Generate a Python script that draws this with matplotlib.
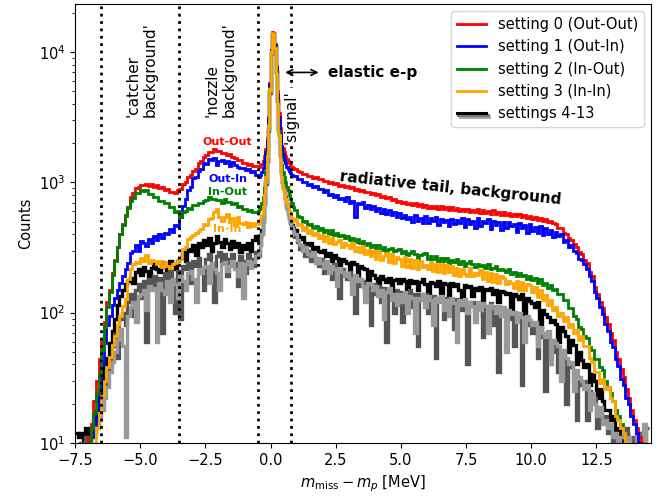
import numpy as np
import matplotlib
matplotlib.use("Agg")
import matplotlib.pyplot as plt
from matplotlib.lines import Line2D
from matplotlib.legend_handler import HandlerBase

# binning: 0.1 MeV on the sides, 0.05 MeV around the elastic peak
edges = np.concatenate([np.linspace(-7.5, -0.5, 71)[:-1],
                        np.linspace(-0.5, 0.9, 29)[:-1],
                        np.linspace(0.9, 14.5, 137)])

# counts per bin (left part / peak part / tail part)
red_left = [1, 1, 1, 1, 1, 11, 14, 21, 30, 44,
            62, 85, 120, 150, 200, 255, 320, 400, 480, 560,
            650, 770, 830, 905, 920, 955, 960, 970, 935, 965,
            930, 955, 905, 915, 880, 885, 840, 845, 835, 870,
            895, 975, 1010, 1110, 1140, 1220, 1270, 1400, 1450, 1580,
            1620, 1710, 1700, 1800, 1740, 1740, 1670, 1680, 1620, 1650,
            1560, 1550, 1490, 1500, 1410, 1420, 1360, 1380, 1330, 1340]
red_peak = [1340, 1320, 1350, 1380, 1450, 1600, 1800, 2200, 3200, 5800, 10500, 14200, 14000, 11500,
            7800, 5000, 3400, 2600, 2100, 1850, 1700, 1600, 1520, 1450, 1400, 1350, 1320, 1290]
red_tail = [1260, 1215, 1210, 1165, 1160, 1130, 1125, 1090, 1095, 1055,
            1070, 1025, 1035, 995, 1010, 970, 990, 945, 960, 920,
            935, 905, 915, 880, 895, 855, 870, 840, 852, 820,
            830, 800, 812, 780, 790, 755, 768, 735, 742, 710,
            722, 695, 712, 680, 700, 672, 690, 660, 678, 650,
            672, 640, 665, 635, 660, 628, 655, 620, 648, 615,
            645, 612, 632, 608, 628, 600, 622, 596, 615, 592,
            620, 585, 612, 582, 604, 576, 610, 570, 596, 566,
            590, 560, 582, 556, 576, 548, 568, 540, 560, 534,
            552, 528, 546, 518, 536, 508, 520, 496, 505, 485,
            482, 450, 445, 410, 400, 372, 362, 335, 322, 292,
            282, 252, 240, 205, 190, 158, 140, 120, 108, 92,
            82, 70, 62, 50, 44, 37, 32, 26, 22, 18,
            15, 13, 11, 10, 1, 1]

blue_left = [1, 1, 1, 1, 1, 1, 11, 14, 18, 26,
             40, 58, 80, 95, 115, 130, 150, 170, 190, 215,
             240, 285, 295, 330, 300, 355, 345, 325, 370, 340,
             390, 360, 405, 375, 410, 400, 440, 420, 470, 465,
             540, 660, 740, 880, 930, 1080, 1100, 1230, 1270, 1410,
             1380, 1510, 1480, 1530, 1360, 1470, 1480, 1420, 1460, 1340,
             1430, 1350, 1320, 1300, 1300, 1250, 1270, 1200, 1220, 1150]
blue_peak = [1120, 1100, 1150, 1200, 1300, 1450, 1700, 2100, 3100, 5700, 10400, 14100, 13900, 11300,
             7600, 4800, 3200, 2400, 1900, 1650, 1500, 1400, 1320, 1280, 1220, 1180, 1150, 1120]
blue_tail = [1120, 1060, 1065, 1010, 1000, 955, 975, 925, 940, 890,
             890, 850, 870, 800, 820, 770, 800, 745, 760, 720,
             770, 700, 720, 540, 700, 680, 705, 640, 670, 620,
             655, 600, 640, 585, 620, 570, 610, 560, 595, 545,
             580, 530, 565, 520, 545, 500, 560, 505, 530, 490,
             555, 485, 530, 510, 540, 470, 525, 495, 515, 460,
             525, 480, 515, 490, 530, 455, 520, 480, 505, 450,
             530, 465, 510, 485, 520, 440, 505, 470, 500, 430,
             495, 450, 500, 460, 480, 420, 490, 445, 470, 410,
             480, 425, 455, 410, 460, 395, 445, 400, 430, 380,
             420, 390, 400, 350, 360, 320, 330, 300, 285, 260,
             255, 235, 215, 190, 175, 145, 130, 110, 98, 82,
             72, 60, 54, 44, 39, 31, 28, 22, 20, 16,
             14, 12, 10, 1, 1, 1]

green_left = [1, 1, 1, 1, 1, 10, 13, 17, 24, 34,
              52, 78, 110, 145, 195, 250, 320, 400, 470, 550,
              640, 720, 760, 830, 830, 870, 860, 875, 810, 810,
              770, 770, 725, 725, 690, 700, 650, 650, 595, 600,
              540, 590, 600, 640, 630, 675, 670, 700, 690, 720,
              730, 780, 750, 745, 735, 730, 690, 740, 710, 705,
              680, 690, 645, 660, 620, 630, 600, 610, 590, 595]
green_peak = [600, 620, 650, 700, 780, 900, 1200, 1700, 2800, 5300, 10000, 13800, 13600, 10900,
              7000, 4200, 2500, 1700, 1350, 1200, 1100, 1000, 930, 870, 800, 750, 700, 650]
green_tail = [610, 555, 540, 500, 505, 470, 480, 450, 465, 435,
              450, 420, 435, 405, 428, 398, 410, 385, 398, 375,
              390, 362, 375, 350, 366, 340, 355, 328, 345, 320,
              332, 315, 330, 305, 318, 296, 310, 315, 295, 305,
              308, 285, 296, 275, 288, 295, 280, 265, 278, 282,
              288, 260, 270, 258, 272, 248, 262, 250, 262, 240,
              252, 245, 258, 236, 248, 230, 242, 250, 238, 226,
              238, 228, 232, 222, 238, 215, 222, 230, 214, 218,
              212, 206, 218, 198, 206, 192, 200, 190, 196, 182,
              192, 178, 186, 170, 180, 164, 170, 156, 162, 148,
              152, 138, 140, 124, 124, 108, 108, 94, 90, 78,
              75, 66, 64, 54, 52, 44, 44, 38, 36, 30,
              27, 24, 21, 18, 16, 14, 12, 10, 1, 1,
              1, 1, 1, 1, 1, 1]

orange_left = [1, 1, 1, 1, 1, 1, 1, 10, 13, 17,
               23, 30, 38, 46, 56, 66, 80, 95, 112, 128,
               180, 215, 235, 245, 240, 265, 250, 275, 240, 255,
               250, 235, 250, 225, 245, 230, 220, 235, 240, 250,
               265, 310, 320, 370, 380, 395, 410, 425, 440, 480,
               470, 520, 530, 590, 630, 540, 510, 545, 575, 500,
               530, 470, 545, 490, 480, 500, 455, 490, 465, 485]
orange_peak = [480, 500, 520, 560, 650, 800, 1100, 1600, 2700, 5200, 10000, 14000, 13800, 10800,
               6800, 4000, 2300, 1500, 1100, 900, 800, 740, 700, 650, 600, 560, 530, 510]
orange_tail = [520, 470, 480, 430, 455, 410, 430, 395, 410, 375,
               395, 355, 390, 345, 375, 335, 350, 360, 320, 345,
               330, 315, 340, 295, 320, 290, 325, 280, 305, 270,
               300, 258, 295, 255, 270, 285, 245, 280, 240, 268,
               258, 230, 268, 225, 258, 222, 252, 215, 248, 225,
               232, 215, 245, 210, 238, 205, 235, 200, 232, 205,
               228, 195, 222, 190, 218, 198, 190, 222, 192, 200,
               196, 212, 180, 205, 175, 200, 172, 198, 168, 190,
               186, 165, 175, 170, 155, 176, 150, 172, 148, 165,
               162, 145, 158, 132, 150, 126, 136, 114, 124, 104,
               110, 95, 100, 86, 92, 78, 82, 70, 74, 62,
               66, 55, 55, 45, 42, 35, 35, 29, 31, 26,
               27, 22, 21, 16, 15, 13, 12, 10, 1, 1,
               1, 1, 1, 1, 1, 1]

# settings 4-13, shown as three grey shades
black_left = [12, 11, 12, 10, 13, 11, 13, 15, 18, 22,
              30, 38, 45, 58, 72, 90, 115, 135, 150, 165,
              175, 185, 170, 205, 215, 195, 225, 210, 180, 220,
              235, 215, 205, 245, 225, 180, 250, 235, 215, 250,
              265, 290, 250, 310, 300, 330, 275, 340, 320, 360,
              330, 375, 300, 345, 385, 350, 320, 365, 340, 310,
              355, 320, 345, 290, 330, 310, 345, 300, 360, 390]
black_peak = [360, 340, 380, 430, 520, 700, 1000, 1500, 2600, 5000, 9800, 13700, 13900, 11000,
              7000, 4200, 2500, 1600, 1200, 1000, 900, 780, 680, 600, 540, 500, 470, 450]
black_tail = [430, 395, 370, 380, 340, 330, 345, 300, 320, 295,
              290, 305, 270, 285, 250, 275, 265, 230, 260, 250,
              240, 210, 245, 235, 190, 230, 222, 215, 170, 210,
              195, 185, 150, 190, 180, 172, 185, 140, 178, 182,
              170, 180, 175, 130, 178, 168, 176, 150, 172, 180,
              165, 120, 172, 168, 160, 175, 140, 170, 165, 110,
              168, 160, 165, 150, 125, 162, 158, 160, 135, 155,
              150, 158, 95, 152, 148, 155, 140, 150, 120, 146,
              145, 138, 142, 100, 140, 135, 128, 138, 90, 130,
              122, 118, 110, 120, 78, 105, 98, 92, 85, 88,
              82, 60, 78, 72, 66, 50, 62, 56, 40, 50,
              43, 38, 40, 28, 34, 30, 22, 26, 21, 18,
              18, 15, 16, 12, 13, 11, 1, 12, 10, 1,
              1, 11, 1, 12, 1, 1]

dgray_left = [1, 1, 10, 1, 11, 1, 11, 12, 14, 17,
              22, 28, 35, 42, 55, 68, 45, 90, 100, 80,
              120, 140, 95, 150, 165, 130, 175, 60, 180, 160,
              190, 150, 185, 70, 200, 175, 215, 160, 100, 210,
              90, 230, 215, 240, 170, 250, 230, 265, 200, 150,
              260, 280, 230, 120, 270, 290, 240, 280, 190, 260,
              280, 240, 160, 270, 250, 200, 280, 260, 230, 290]
dgray_peak = [290, 270, 330, 400, 500, 680, 980, 1450, 2500, 4900, 9700, 13600, 13800, 11100,
              7100, 4300, 2600, 1650, 1200, 1000, 880, 760, 660, 590, 530, 490, 460, 430]
dgray_tail = [380, 350, 310, 330, 270, 300, 250, 280, 260, 230,
              260, 200, 240, 230, 180, 235, 210, 130, 215, 200,
              180, 205, 170, 100, 185, 160, 175, 150, 165, 80,
              165, 140, 160, 120, 155, 60, 150, 140, 100, 150,
              145, 85, 140, 135, 150, 110, 140, 55, 138, 130,
              140, 100, 128, 135, 45, 130, 122, 90, 130, 120,
              125, 75, 128, 118, 105, 122, 40, 115, 120, 105,
              115, 110, 65, 112, 105, 118, 80, 110, 35, 105,
              100, 105, 90, 98, 55, 100, 95, 28, 90, 85,
              80, 70, 82, 45, 75, 65, 25, 62, 58, 50,
              55, 35, 50, 48, 20, 42, 38, 30, 15, 30,
              28, 30, 15, 25, 20, 22, 13, 18, 15, 16,
              12, 14, 1, 12, 11, 1, 1, 13, 1, 11,
              1, 1, 12, 1, 1, 13]

lgray_left = [1, 1, 1, 1, 1, 10, 11, 12, 13, 15,
              18, 22, 27, 35, 42, 50, 62, 75, 55, 11,
              95, 110, 120, 85, 135, 140, 150, 105, 160, 150,
              155, 60, 170, 150, 140, 175, 120, 180, 165, 130,
              190, 175, 150, 200, 210, 180, 120, 215, 200, 225,
              230, 170, 240, 215, 200, 150, 235, 245, 210, 230,
              250, 215, 190, 240, 130, 235, 250, 220, 245, 270]
lgray_peak = [270, 290, 330, 400, 500, 680, 1000, 1500, 2600, 5000, 9800, 13800, 14000, 11200,
              7200, 4300, 2600, 1650, 1150, 960, 860, 740, 640, 570, 520, 480, 450, 420]
lgray_tail = [400, 360, 330, 300, 320, 280, 270, 290, 240, 265,
              240, 220, 250, 200, 230, 215, 160, 220, 205, 190,
              200, 185, 140, 195, 175, 180, 160, 120, 170, 165,
              150, 160, 135, 150, 90, 145, 155, 125, 140, 115,
              140, 120, 145, 100, 135, 130, 70, 130, 125, 140,
              110, 135, 125, 80, 130, 120, 135, 105, 125, 95,
              130, 118, 60, 125, 115, 128, 100, 120, 112, 85,
              120, 105, 118, 112, 70, 115, 108, 100, 112, 95,
              110, 50, 105, 98, 102, 85, 100, 92, 60, 95,
              88, 80, 85, 55, 78, 70, 65, 72, 40, 62,
              58, 55, 30, 52, 45, 40, 42, 25, 36, 32,
              30, 26, 28, 18, 24, 20, 16, 19, 14, 15,
              13, 14, 11, 12, 1, 11, 12, 1, 11, 1,
              1, 12, 1, 1, 14, 1]

labels = ["setting 0 (Out-Out)", "setting 1 (Out-In)", "setting 2 (In-Out)",
          "setting 3 (In-In)", "settings 4-13"]
cut_lines = [-6.5, -3.5, -0.5, 0.77]


class StackHandler(HandlerBase):
    # draws a few offset lines, like the stacked grey histograms
    def __init__(self, colors):
        super().__init__()
        self.colors = colors

    def create_artists(self, legend, orig_handle, xdescent, ydescent,
                       width, height, fontsize, trans):
        arts = []
        y0 = height / 2 - ydescent
        for i, c in reversed(list(enumerate(self.colors))):
            ln = Line2D([-xdescent + i * 1.0, -xdescent + width + i * 1.0],
                        [y0 - i * 1.4, y0 - i * 1.4], color=c, lw=2.2)
            ln.set_transform(trans)
            arts.append(ln)
        return arts


plt.rcParams["font.size"] = 10.5
fig = plt.figure(figsize=(6.7, 4.97), dpi=100)
ax = fig.add_axes([0.112, 0.109, 0.86, 0.883])

grays = [("black", black_left, black_peak, black_tail),
         ("#555555", dgray_left, dgray_peak, dgray_tail),
         ("#999999", lgray_left, lgray_peak, lgray_tail)]
colored = [("red", red_left, red_peak, red_tail),
           ("blue", blue_left, blue_peak, blue_tail),
           ("green", green_left, green_peak, green_tail),
           ("orange", orange_left, orange_peak, orange_tail)]

for c, a, b, t in grays:
    vals = a + b + t
    assert len(vals) == len(edges) - 1, c
    ax.stairs(vals, edges, color=c, lw=2.4, baseline=None)

for c, a, b, t in colored:
    vals = a + b + t
    assert len(vals) == len(edges) - 1, c
    ax.stairs(vals, edges, color=c, lw=2, baseline=None)

for xc in cut_lines:
    ax.axvline(xc, color="black", ls=":", lw=2, zorder=1)

ax.set_yscale("log")
ax.set_xlim(-7.5, 14.6)
ax.set_ylim(10, 2.35e4)
ax.set_xlabel(r"$m_\mathrm{miss} - m_p$ [MeV]")
ax.set_ylabel("Counts")

# region annotations
ax.text(-4.95, 7350, "'catcher\nbackground'", rotation=90, ha="center", va="center",
        multialignment="left", fontsize=11)
ax.text(-1.92, 7350, "'nozzle\nbackground'", rotation=90, ha="center", va="center",
        multialignment="left", fontsize=11)
ax.text(0.8, 3200, "'signal'", rotation=90, ha="center", va="center", fontsize=11,
        bbox=dict(fc="white", ec="none", pad=1), zorder=3)
ax.annotate("", xy=(0.45, 7000), xytext=(1.95, 7000),
            arrowprops=dict(arrowstyle="<->", lw=1.2, color="black"))
ax.text(2.2, 7000, "elastic e-p", ha="left", va="center", fontsize=11, fontweight="bold")
ax.text(6.9, 910, "radiative tail, background", ha="center", va="center", rotation=-6,
        fontsize=11, fontweight="bold")

for txt, yv, c in [("Out-Out", 2030, "red"), ("Out-In", 1055, "blue"),
                   ("In-Out", 838, "green"), ("In-In", 437, "orange")]:
    ax.text(-1.65, yv, txt, color=c, ha="center", va="center", fontsize=8, fontweight="bold",
            zorder=4)

stack = Line2D([], [], color="black")
handles = [Line2D([], [], color=c, lw=2) for c in ["red", "blue", "green", "orange"]] + [stack]
ax.legend(handles, labels, loc="upper right", fontsize=10.5,
          handler_map={stack: StackHandler(["black", "#777777", "#aaaaaa"])})

fig.savefig("out.png", dpi=100)
